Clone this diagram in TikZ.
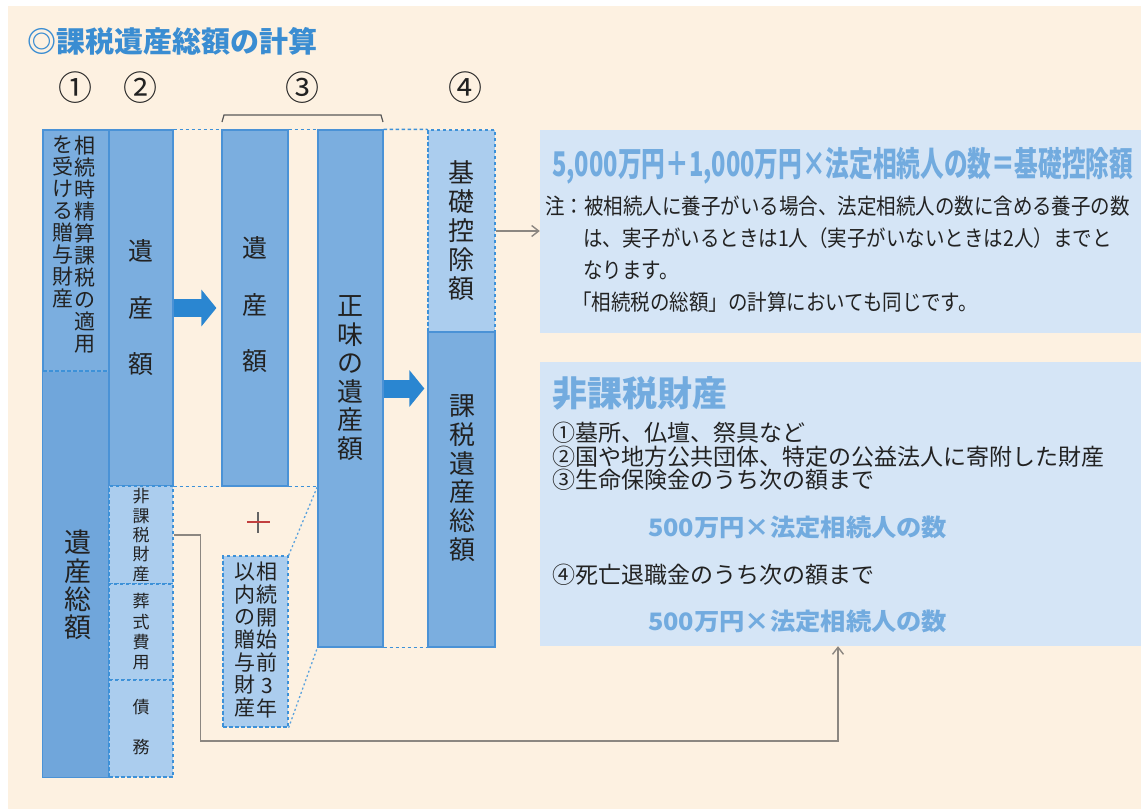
\documentclass[tikz,border=0pt]{standalone}
\usepackage{fontspec}
\setmainfont{Noto Sans CJK JP}
\newfontfamily\narrowjp[FakeStretch=0.886]{Noto Sans CJK JP}
\usepackage{graphicx}
\usepackage{xcolor}
\usepackage{tikz}
\usetikzlibrary{positioning,arrows.meta}

\definecolor{cream}{HTML}{FDF1E1}
\definecolor{colfill}{HTML}{7BAEDF}
\definecolor{colfilldark}{HTML}{70A6DB}
\definecolor{colline}{HTML}{4A92D6}
\definecolor{lightfill}{HTML}{ABCDEE}
\definecolor{dashline}{HTML}{3D91D8}
\definecolor{notefill}{HTML}{D5E5F6}
\definecolor{titleblue}{HTML}{3A8DD2}
\definecolor{softblue}{HTML}{72ABDF}
\definecolor{arrowblue}{HTML}{2A86D1}
\definecolor{leadgray}{HTML}{8C8781}
\definecolor{ink}{HTML}{222222}
\definecolor{plusred}{HTML}{C2403F}

\tikzset{
  colbox/.style={draw=colline,fill=colfill,line width=1.2pt,inner sep=0pt},
  subbox/.style={draw=dashline,fill=lightfill,line width=1.3pt,dash pattern=on 3.5pt off 2.5pt,inner sep=0pt},
  notebox/.style={fill=notefill,inner sep=0pt},
  linkdash/.style={draw=dashline,line width=1.4pt,dash pattern=on 3.5pt off 2.5pt},
  linkdot/.style={draw=dashline!85,line width=1.3pt,dash pattern=on 2pt off 2.5pt},
  leader/.style={draw=leadgray,line width=1.4pt,-{Straight Barb[length=7pt,width=11pt]}},
  bigarrow/.style={draw=arrowblue,line width=18pt,-{Triangle[length=15pt,width=36pt]}},
  vlabel/.style={align=center,inner sep=0pt,text=ink},
  hlabel/.style={anchor=west,inner sep=0pt,text=ink},
  circnum/.style={inner sep=0pt,text=ink,font=\fontsize{34pt}{34pt}\selectfont},
}

\begin{document}
\begin{tikzpicture}[x=1pt,y=-1pt]
\useasboundingbox (0,0) rectangle (1141,809);
\fill[white] (0,0) rectangle (1141,809);
\fill[cream] (8,6) rectangle (1141,809);

% title and step numbers
\node[hlabel,text=titleblue,font=\bfseries\fontsize{29pt}{29pt}\selectfont] (title) at (27,41) {◎課税遺産総額の計算};
\node[circnum] (n1) at (75,88) {①};
\node[circnum] (n2) at (140,88) {②};
\node[circnum] (n3) at (302,88) {③};
\node[circnum] (n4) at (465,88) {④};
\draw[ink!75,line width=1.2pt] (222,122) -- (224,115) -- (381,115) -- (383,122);

% columns
\node[colbox,minimum width=66pt,minimum height=647pt] (total) at (76,453.5) {};
\fill[colfilldark] ([shift={(0.6,0.6)}]total.south west) rectangle (108.4,371.6);
\draw[colline,line width=1.2pt] (total.north west) rectangle (total.south east);
\draw[linkdash] (43,371) -- (109,371);
\node[colbox,minimum width=64pt,minimum height=356pt] (estate1) at (141,308) {};
\node[subbox,minimum width=64pt,minimum height=98pt] (taxfree) at (141,535) {};
\node[subbox,minimum width=64pt,minimum height=96pt] (funeral) at (141,632) {};
\node[subbox,minimum width=64pt,minimum height=97pt] (debt) at (141,728.5) {};
\node[colbox,minimum width=66pt,minimum height=356pt] (estate2) at (255,308) {};
\node[subbox,minimum width=65pt,minimum height=171pt] (pregift) at (255.5,641.5) {};
\node[colbox,minimum width=65pt,minimum height=517pt] (net) at (350.5,388.5) {};
\node[subbox,minimum width=67pt,minimum height=202pt] (basic) at (461.5,231) {};
\node[colbox,minimum width=67pt,minimum height=315pt] (taxable) at (461.5,489.5) {};

% column texts
\node[vlabel,anchor=north,font=\fontsize{21pt}{22pt}\selectfont] (gift1) at (85,136) {相\\続\\時\\精\\算\\課\\税\\の\\適\\用};
\node[vlabel,anchor=north,font=\fontsize{21pt}{22pt}\selectfont] (gift2) at (63,136) {を\\受\\け\\る\\贈\\与\\財\\産};
\node[vlabel,font=\fontsize{27pt}{28.3pt}\selectfont] (totaltxt) at (78,585) {遺\\産\\総\\額};
\node[vlabel,font=\fontsize{25pt}{56.5pt}\selectfont] (estate1txt) at (estate1) {遺\\産\\額};
\node[vlabel,font=\fontsize{17pt}{19.3pt}\selectfont] (taxfreetxt) at (taxfree) {非\\課\\税\\財\\産};
\node[vlabel,font=\fontsize{17pt}{20.3pt}\selectfont] (funeraltxt) at (funeral) {葬\\式\\費\\用};
\node[vlabel,font=\fontsize{17pt}{40pt}\selectfont] (debttxt) at ([yshift=1.5]debt.center) {債\\務};
\node[vlabel,font=\fontsize{25pt}{56.5pt}\selectfont] (estate2txt) at ([yshift=3]estate2.center) {遺\\産\\額};
\node[vlabel,font=\fontsize{21pt}{22.7pt}\selectfont] (pregift1) at (267,640) {相\\続\\開\\始\\前\\3\\年};
\node[vlabel,font=\fontsize{21pt}{22.7pt}\selectfont] (pregift2) at (245,640) {以\\内\\の\\贈\\与\\財\\産};
\node[vlabel,font=\fontsize{26pt}{28.5pt}\selectfont] (nettxt) at (350,378) {正\\味\\の\\遺\\産\\額};
\node[vlabel,font=\fontsize{26pt}{29pt}\selectfont] (basictxt) at (basic) {基\\礎\\控\\除\\額};
\node[vlabel,font=\fontsize{26pt}{28.7pt}\selectfont] (taxabletxt) at (462,478) {課\\税\\遺\\産\\総\\額};

% plus sign
\draw[ink!70,line width=1.3pt] (258,512) -- (258,533);
\draw[plusred,line width=1.3pt] (247,522) -- (270,522);

% dashed links between columns
\draw[linkdash] (estate1.north east) -- (estate2.north west);
\draw[linkdash] (estate2.north east) -- (net.north west);
\draw[linkdash] (net.north east) -- (basic.north west);
\draw[linkdash] (estate1.south east) -- (estate2.south west);
\draw[linkdash] (estate2.south east) -- (net.west |- estate2.south);
\draw[linkdash] (net.south east) -- (taxable.south west);
\draw[linkdot] (pregift.north east) -- (net.west |- estate2.south);
\draw[linkdot] (pregift.south east) -- (net.south west);

% flow arrows
\draw[bigarrow,shorten >=5pt] (estate1.east) -- (estate2.west);
\draw[bigarrow,shorten >=3pt] (net.east) -- (basic.west |- net.east);

% note boxes
\node[notebox,minimum width=601pt,minimum height=203pt] (note) at (840.5,231.5) {};
\node[notebox,minimum width=601pt,minimum height=284pt] (exempt) at (840.5,504) {};

\node[hlabel,text=softblue,font=\bfseries\fontsize{34pt}{34pt}\selectfont] (formula) at (552,166) {\resizebox{581pt}{\height}{5,000万円＋1,000万円×法定相続人の数＝基礎控除額}};
\node[hlabel,font=\narrowjp\fontsize{22pt}{22pt}\selectfont] (note1) at (545,206) {注：被相続人に養子がいる場合、法定相続人の数に含める養子の数};
\node[hlabel,font=\narrowjp\fontsize{22pt}{22pt}\selectfont] (note2) at (583,238) {は、実子がいるときは1人（実子がいないときは2人）までと};
\node[hlabel,font=\narrowjp\fontsize{22pt}{22pt}\selectfont] (note3) at (583,270) {なります。};
\node[hlabel,font=\narrowjp\fontsize{22pt}{22pt}\selectfont] (note4) at (572,302) {「相続税の総額」の計算においても同じです。};

\node[hlabel,text=softblue,font=\bfseries\fontsize{35pt}{35pt}\selectfont] (exempttitle) at (552,393) {非課税財産};
\node[hlabel,font=\fontsize{23pt}{23pt}\selectfont] (item1) at (552,433) {①墓所、仏壇、祭具など};
\node[hlabel,font=\fontsize{23pt}{23pt}\selectfont] (item2) at (552,457) {②国や地方公共団体、特定の公益法人に寄附した財産};
\node[hlabel,font=\fontsize{23pt}{23pt}\selectfont] (item3) at (552,480) {③生命保険金のうち次の額まで};
\node[hlabel,text=softblue,font=\bfseries\fontsize{24pt}{24pt}\selectfont] (limit1) at (648,527) {\resizebox{299pt}{\height}{500万円×法定相続人の数}};
\node[hlabel,font=\fontsize{23pt}{23pt}\selectfont] (item4) at (552,575) {④死亡退職金のうち次の額まで};
\node[hlabel,text=softblue,font=\bfseries\fontsize{24pt}{24pt}\selectfont] (limit2) at (648,621) {\resizebox{299pt}{\height}{500万円×法定相続人の数}};

% leaders
\coordinate (bend) at (838,741);
\draw[leader] (basic.east) -- (note.west |- basic.east);
\draw[leader] (taxfree.east) -- ++(27,0) |- (bend) -- (bend |- exempt.south);

\end{tikzpicture}
\end{document}
